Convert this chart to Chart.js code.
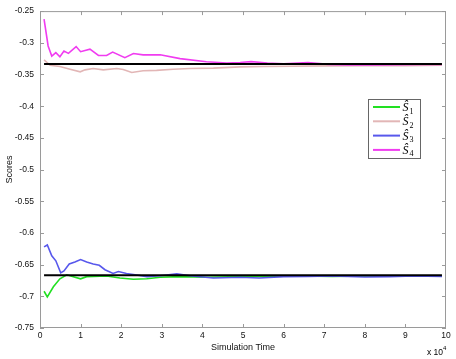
<!DOCTYPE html>
<html>
<head>
<meta charset="utf-8">
<script src="https://cdn.jsdelivr.net/npm/chart.js@4.4.1/dist/chart.umd.min.js"></script>
<style>
  html, body { margin: 0; padding: 0; background: #fff; }
  #wrap { width: 456px; height: 359px; position: relative; }
</style>
</head>
<body>
<div id="wrap"><canvas id="chart"></canvas></div>
<script>
// simulation time in units of 10^4
const s1Time = [0.1, 0.18, 0.33, 0.49, 0.66, 0.82, 1.0, 1.15, 1.64, 1.97, 2.3, 2.63, 2.96, 3.45, 4.1, 4.93, 5.6, 6.4, 7.2, 8, 8.8, 9.9];
const s1Score = [-0.692, -0.701, -0.685, -0.6724, -0.666, -0.669, -0.6724, -0.669, -0.668, -0.671, -0.673, -0.6724, -0.670, -0.669, -0.670, -0.669, -0.6685, -0.668, -0.6685, -0.668, -0.668, -0.668];

const s2Time = [0.1, 0.25, 0.49, 0.74, 0.99, 1.11, 1.31, 1.56, 1.89, 2.05, 2.26, 2.54, 2.87, 3.28, 3.69, 4.27, 4.93, 5.5, 6.2, 7.1, 8, 9, 9.9];
const s2Score = [-0.327, -0.3355, -0.3375, -0.3417, -0.3458, -0.3427, -0.3406, -0.3427, -0.3406, -0.342, -0.3469, -0.344, -0.3435, -0.3417, -0.3406, -0.340, -0.338, -0.3375, -0.337, -0.3365, -0.336, -0.336, -0.3355];

const s3Time = [0.1, 0.18, 0.29, 0.39, 0.51, 0.59, 0.72, 0.86, 1.0, 1.15, 1.31, 1.46, 1.6, 1.8, 1.93, 2.13, 2.34, 2.63, 2.96, 3.37, 3.69, 4.27, 4.93, 5.4, 6, 6.6, 7.2, 8, 8.6, 9.2, 9.9];
const s3Score = [-0.622, -0.619, -0.636, -0.644, -0.663, -0.66, -0.649, -0.646, -0.642, -0.646, -0.649, -0.651, -0.658, -0.664, -0.661, -0.664, -0.666, -0.669, -0.6675, -0.6646, -0.6675, -0.671, -0.67, -0.671, -0.669, -0.6685, -0.668, -0.6695, -0.669, -0.668, -0.6685];

const s4Time = [0.1, 0.2, 0.29, 0.39, 0.49, 0.59, 0.7, 0.89, 1.0, 1.23, 1.44, 1.64, 1.79, 2.09, 2.3, 2.54, 2.96, 3.45, 4.1, 4.6, 4.93, 5.2, 5.6, 6.0, 6.6, 7.1, 7.6, 8.2, 8.8, 9.4, 9.9];
const s4Score = [-0.2625, -0.305, -0.321, -0.3156, -0.322, -0.313, -0.3167, -0.306, -0.314, -0.31, -0.32, -0.32, -0.3146, -0.3234, -0.317, -0.319, -0.319, -0.325, -0.330, -0.332, -0.331, -0.3297, -0.332, -0.333, -0.331, -0.334, -0.335, -0.335, -0.3345, -0.334, -0.334];

// reference levels -1/3 and -2/3
const refTime = [0.1, 9.9];
const refUpper = [-1 / 3, -1 / 3];
const refLower = [-2 / 3, -2 / 3];

const seriesNames = ['S1', 'S2', 'S3', 'S4'];
const xTicks = [0, 1, 2, 3, 4, 5, 6, 7, 8, 9, 10];

const axisGray = '#9a9a9a';
const tickFont = { family: 'Liberation Sans, Arial, sans-serif', size: 8.5 };
const titleFont = { family: 'Liberation Sans, Arial, sans-serif', size: 9 };

const pts = (xs, ys) => xs.map((x, i) => ({ x, y: ys[i] }));

const series = (label, color, xs, ys, order, width) => ({
    label, data: pts(xs, ys), borderColor: color, backgroundColor: color,
    borderWidth: width || 1.6, pointRadius: 0, showLine: true, fill: false,
    tension: 0, order
});

// box with inward ticks, plus the "x 10^4" exponent note
const boxPlugin = {
    id: 'box',
    beforeDatasetsDraw(chart) {
        const { ctx, chartArea: a, scales } = chart;
        ctx.save();
        ctx.strokeStyle = axisGray;
        ctx.lineWidth = 1;
        ctx.strokeRect(a.left + 0.5, a.top + 0.5, a.right - a.left - 1, a.bottom - a.top - 1);
        ctx.beginPath();
        xTicks.slice(1, -1).forEach(v => {
            const px = Math.round(scales.x.getPixelForValue(v)) + 0.5;
            ctx.moveTo(px, a.bottom); ctx.lineTo(px, a.bottom - 4);
            ctx.moveTo(px, a.top); ctx.lineTo(px, a.top + 4);
        });
        scales.y.ticks.forEach(t => {
            const py = Math.round(scales.y.getPixelForValue(t.value)) + 0.5;
            ctx.moveTo(a.left, py); ctx.lineTo(a.left + 4, py);
            ctx.moveTo(a.right, py); ctx.lineTo(a.right - 4, py);
        });
        ctx.stroke();
        ctx.restore();
    },
    afterDraw(chart) {
        const { ctx, chartArea: a } = chart;
        ctx.save();
        ctx.fillStyle = '#000';
        ctx.font = '8.5px Liberation Sans, Arial, sans-serif';
        ctx.textAlign = 'right';
        ctx.textBaseline = 'alphabetic';
        ctx.fillText('x 10', a.right - 3, 355);
        ctx.font = '6px Liberation Sans, Arial, sans-serif';
        ctx.textAlign = 'left';
        ctx.fillText('4', a.right - 3, 350);
        ctx.restore();
    }
};

// legend drawn inside the plot area like the original
const legendPlugin = {
    id: 'insideLegend',
    afterDraw(chart) {
        const { ctx } = chart;
        const items = chart.data.datasets.filter(d => seriesNames.includes(d.label));
        const x0 = 368, y0 = 99, w = 52, h = 59;
        ctx.save();
        ctx.fillStyle = '#fff';
        ctx.fillRect(x0, y0, w, h);
        ctx.strokeStyle = '#666';
        ctx.lineWidth = 1;
        ctx.strokeRect(x0 + 0.5, y0 + 0.5, w, h);
        items.forEach((d, i) => {
            const y = y0 + 8 + i * 14.3;
            ctx.strokeStyle = d.borderColor;
            ctx.lineWidth = 2;
            ctx.beginPath();
            ctx.moveTo(x0 + 5, y); ctx.lineTo(x0 + 32, y);
            ctx.stroke();
            ctx.fillStyle = '#000';
            ctx.textBaseline = 'alphabetic';
            ctx.textAlign = 'left';
            ctx.font = 'italic 12px Liberation Serif, DejaVu Serif, serif';
            ctx.fillText('\u015C', x0 + 34.5, y + 4);
            ctx.font = '8px Liberation Serif, DejaVu Serif, serif';
            ctx.fillText(d.label.slice(1), x0 + 41.5, y + 6.5);
        });
        ctx.restore();
    }
};

new Chart(document.getElementById('chart'), {
    type: 'scatter',
    data: {
        datasets: [
            series('S1', '#22e022', s1Time, s1Score, 4),
            series('S2', '#e2b6b6', s2Time, s2Score, 3),
            series('S3', '#5858ec', s3Time, s3Score, 2),
            series('S4', '#f03cf0', s4Time, s4Score, 1),
            series('ref1', '#000', refTime, refUpper, 0, 2),
            series('ref2', '#000', refTime, refLower, 0, 2)
        ]
    },
    options: {
        responsive: true,
        maintainAspectRatio: false,
        animation: false,
        layout: { padding: { top: 8, right: 10, left: 0, bottom: 0 } },
        plugins: { legend: { display: false }, tooltip: { enabled: false } },
        scales: {
            x: {
                type: 'linear', min: 0, max: 10,
                afterBuildTicks: s => { s.ticks = xTicks.map(v => ({ value: v })); },
                afterFit: s => { s.height = 31; },
                grid: { display: false, drawTicks: false },
                border: { display: false },
                ticks: { color: '#111', font: tickFont, padding: 3, maxRotation: 0, autoSkip: false,
                    callback: v => String(v) },
                title: { display: true, text: 'Simulation Time', color: '#111', font: titleFont,
                    padding: { top: 0, bottom: 5.6 } }
            },
            y: {
                min: -0.75, max: -0.25,
                afterFit: s => { s.width = 40; },
                grid: { display: false, drawTicks: false },
                border: { display: false },
                ticks: { stepSize: 0.05, color: '#111', font: tickFont, padding: 6,
                    callback: v => String(Number(v.toFixed(2))) },
                title: { display: true, text: 'Scores', color: '#111', font: titleFont,
                    padding: { top: 4.6, bottom: 0 } }
            }
        }
    },
    plugins: [boxPlugin, legendPlugin]
});
</script>
</body>
</html>
